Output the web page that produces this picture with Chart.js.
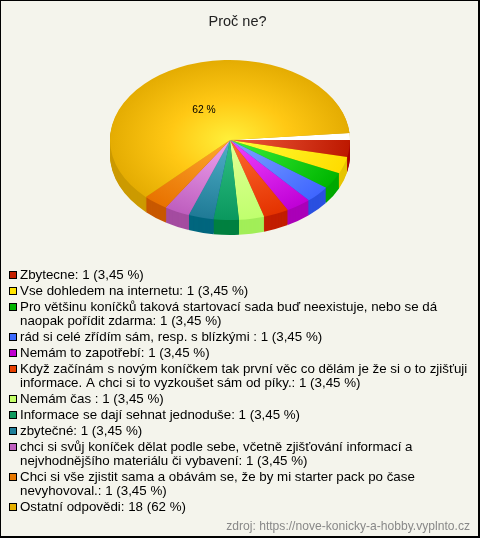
<!DOCTYPE html>
<html lang="cs">
<head>
<meta charset="utf-8">
<title>Proč ne?</title>
<script src="https://cdn.jsdelivr.net/npm/chart.js@4"></script>
<style>
    html, body { margin: 0; padding: 0; background: #f4f4ec; }
    #wrap { position: relative; width: 480px; height: 538px; overflow: hidden; }
    #wrap canvas { display: block; }
    #frame {
        position: absolute; left: 0; top: 0; right: 0; bottom: 0;
        border-style: solid; border-color: #000;
        border-width: 1px 2px 2px 1px;
        pointer-events: none;
    }
</style>
</head>
<body>
<div id="wrap">
    <canvas id="pie" width="480" height="538"></canvas>
    <div id="frame"></div>
</div>
<script>
// data
const chartTitle = 'Proč ne?';
const sourceText = 'zdroj: https://nove-konicky-a-hobby.vyplnto.cz';
const categories = [
    ['Zbytecne: 1 (3,45 %)'],
    ['Vse dohledem na internetu: 1 (3,45 %)'],
    ['Pro většinu koníčků taková startovací sada buď neexistuje, nebo se dá', 'naopak pořídit zdarma: 1 (3,45 %)'],
    ['rád si celé zřídím sám, resp. s blízkými : 1 (3,45 %)'],
    ['Nemám to zapotřebí: 1 (3,45 %)'],
    ['Když začínám s novým koníčkem tak první věc co dělám je že si o to zjišťuji', 'informace. A chci si to vyzkoušet sám od píky.: 1 (3,45 %)'],
    ['Nemám čas : 1 (3,45 %)'],
    ['Informace se dají sehnat jednoduše: 1 (3,45 %)'],
    ['zbytečné: 1 (3,45 %)'],
    ['chci si svůj koníček dělat podle sebe, včetně zjišťování informací a', 'nejvhodnějšího materiálu či vybavení: 1 (3,45 %)'],
    ['Chci si vše zjistit sama a obávám se, že by mi starter pack po čase', 'nevyhovoval.: 1 (3,45 %)'],
    ['Ostatní odpovědi: 18 (62 %)']
];
const answers = [1, 1, 1, 1, 1, 1, 1, 1, 1, 1, 1, 18];
const sliceLabels = ['', '', '', '', '', '', '', '', '', '', '', '62 %'];

// colours: centre of slice, half way, rim of slice, side wall, legend box
const innerColors = ['#ee5a3c', '#ffff38', '#3cf03c', '#7ea4ff', '#f044ff', '#ff6c30', '#e2ff96', '#30c084', '#52b0c8', '#f0a4f0', '#ffaa30', '#fff03a'];
const midColors = ['#d63a1e', '#ffee1c', '#1ed31e', '#5f85ff', '#d822ea', '#f14f18', '#d1ff82', '#1dac71', '#3895af', '#d781d7', '#f38e18', '#ffc814'];
const rimColors = ['#bd1800', '#ffdc00', '#00b600', '#3f66ff', '#bf00d6', '#e43200', '#c0ff6e', '#0a985e', '#1f7a96', '#be5ebe', '#e87200', '#e4ac02'];
const sideColors = ['#a80000', '#e6c400', '#00a800', '#2a50e0', '#aa00b8', '#c21e00', '#a2ee58', '#008040', '#00667e', '#a44ca0', '#c85800', '#cc9a00'];
const boxColors = ['#c42000', '#ffe400', '#00b400', '#3d6bff', '#c000d0', '#e84000', '#c4ff6a', '#0f9a5f', '#1f7f9a', '#c060c0', '#e87800', '#e6b000'];

const pieX = 230, pieY = 140, pieR = 120;
const squash = 80 / 120;   // ellipse height / width
const depth = 15;

// squash the pie into an ellipse and paint the side wall under it
const tiltPlugin = {
    id: 'tilt',
    beforeDatasetsDraw(chart) {
        const ctx = chart.ctx;
        const arcs = chart.getDatasetMeta(0).data;
        const cx = arcs[0].x, cy = arcs[0].y;

        ctx.save();
        for (let d = depth; d > 0; d--) {
            ctx.save();
            ctx.translate(pieX, pieY + d);
            ctx.scale(1, squash);
            ctx.translate(-cx, -cy);
            arcs.forEach((arc, i) => {
                ctx.beginPath();
                ctx.moveTo(cx, cy);
                ctx.arc(cx, cy, arc.outerRadius, arc.startAngle, arc.endAngle);
                ctx.closePath();
                ctx.fillStyle = sideColors[i];
                ctx.fill();
            });
            ctx.restore();
        }
        ctx.translate(pieX, pieY);
        ctx.scale(1, squash);
        ctx.translate(-cx, -cy);

        // the white gap between the last slice and the first one
        const last = arcs[arcs.length - 1];
        ctx.beginPath();
        ctx.moveTo(cx, cy);
        ctx.arc(cx, cy, last.outerRadius, last.endAngle, arcs[0].startAngle + Math.PI * 2);
        ctx.closePath();
        ctx.fillStyle = '#fff';
        ctx.fill();
    },
    afterDatasetsDraw(chart) {
        const ctx = chart.ctx;
        ctx.restore();

        // percent label inside the slice
        ctx.save();
        ctx.font = '10.3px "Liberation Sans", Arial, sans-serif';
        ctx.fillStyle = '#000';
        ctx.textAlign = 'center';
        ctx.textBaseline = 'middle';
        chart.getDatasetMeta(0).data.forEach((arc, i) => {
            if (!sliceLabels[i]) return;
            const mid = (arc.startAngle + arc.endAngle) / 2;
            const x = pieX + Math.cos(mid) * arc.outerRadius * 0.45;
            const y = pieY + Math.sin(mid) * arc.outerRadius * 0.45 * squash;
            ctx.fillText(sliceLabels[i], x - 3, y + 3);
        });
        ctx.restore();
    }
};

// legend has wrapped lines, so it is painted here instead of the built in one
const notesPlugin = {
    id: 'notes',
    afterDraw(chart) {
        const ctx = chart.ctx;
        ctx.save();
        ctx.font = '13.33px "Liberation Sans", Arial, sans-serif';
        ctx.textAlign = 'left';
        ctx.textBaseline = 'alphabetic';
        let y = 279;
        categories.forEach((lines, i) => {
            ctx.fillStyle = '#000';
            ctx.fillRect(9, y - 8, 8, 8);
            ctx.fillStyle = boxColors[i];
            ctx.fillRect(10, y - 7, 6, 6);
            ctx.fillStyle = '#000';
            lines.forEach((line, n) => {
                ctx.fillText(line, 20, y + n * 14);
            });
            y += (lines.length - 1) * 14 + 16;
        });
        ctx.font = '12.1px "Liberation Sans", Arial, sans-serif';
        ctx.fillStyle = '#888';
        ctx.textAlign = 'right';
        ctx.fillText(sourceText, 470, 530);
        ctx.restore();
    }
};

function sliceGradient(c) {
    const area = c.chart.chartArea;
    if (!area) return rimColors[c.dataIndex];
    const x = (area.left + area.right) / 2;
    const y = (area.top + area.bottom) / 2;
    const g = c.chart.ctx.createRadialGradient(x, y, 0, x, y, pieR);
    g.addColorStop(0, innerColors[c.dataIndex]);
    g.addColorStop(0.5, midColors[c.dataIndex]);
    g.addColorStop(1, rimColors[c.dataIndex]);
    return g;
}

new Chart(document.getElementById('pie'), {
    type: 'pie',
    data: {
        labels: categories.map(lines => lines.join(' ')),
        datasets: [{
            data: answers,
            backgroundColor: sliceGradient,
            borderWidth: 0,
            clip: false
        }]
    },
    options: {
        responsive: false,
        animation: false,
        events: [],
        rotation: 90,
        circumference: 355,
        radius: pieR,
        layout: { padding: { right: 5 } },
        plugins: {
            legend: { display: false },
            tooltip: { enabled: false },
            title: {
                display: true,
                text: chartTitle,
                color: '#222',
                font: { family: '"Liberation Sans", Arial, sans-serif', size: 14.5, weight: 'normal' },
                padding: { top: 13, bottom: 10 }
            }
        }
    },
    plugins: [tiltPlugin, notesPlugin]
});
</script>
</body>
</html>
